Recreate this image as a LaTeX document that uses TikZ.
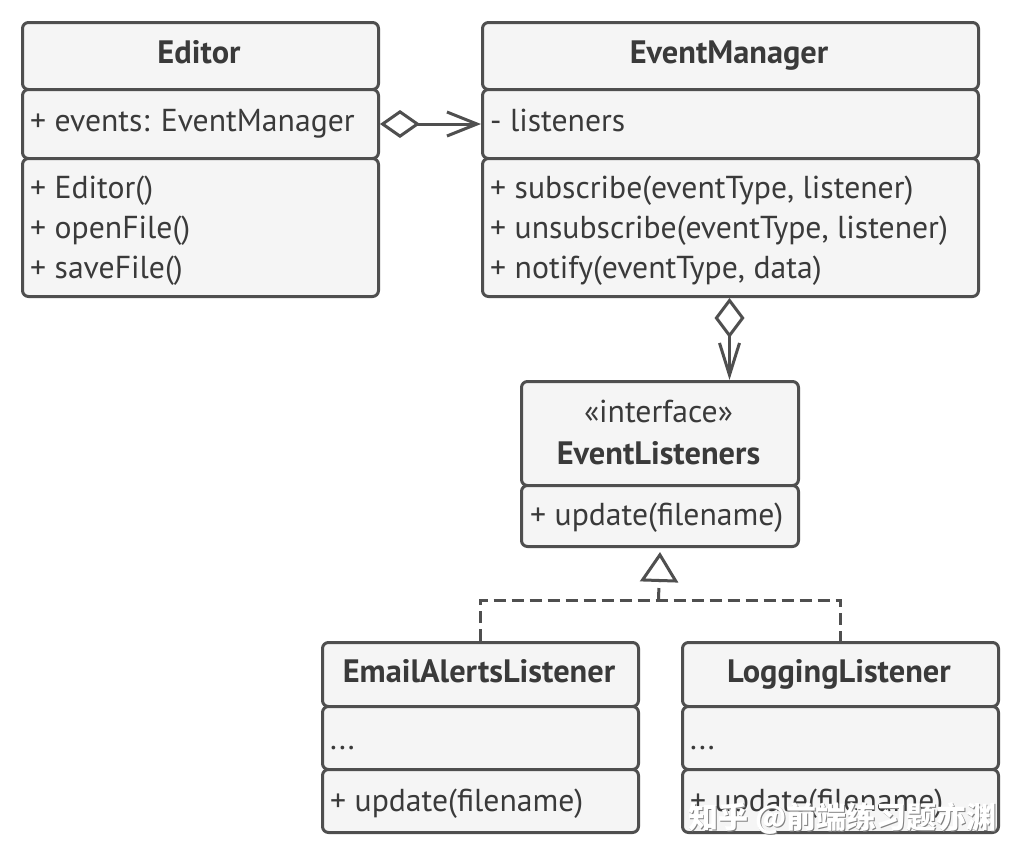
\documentclass[tikz,border=0pt]{standalone}
\usepackage{fontspec}
\setmainfont{PT Sans}
\newfontfamily\cjkfont{Noto Sans CJK SC}
\usetikzlibrary{arrows.meta}
\definecolor{strokec}{HTML}{4F4F4F}
\definecolor{textc}{HTML}{3A3A3A}
\definecolor{fillc}{HTML}{F5F5F5}
\begin{document}
\begin{tikzpicture}[x=1pt,y=-1pt,
  comp/.style={draw=strokec, fill=fillc, line width=3pt, rounded corners=6pt,
    inner sep=0pt, anchor=north west},
  txt/.style={text=textc, inner sep=0pt, anchor=base, font=\fontsize{31.7}{36}\selectfont},
  lt/.style={txt, anchor=base west},
  title/.style={txt, font=\fontsize{32.4}{36}\selectfont\bfseries},
  conn/.style={draw=strokec, line width=3pt},
  dashline/.style={conn, dash pattern=on 12pt off 6pt}
]
\useasboundingbox (0,0) rectangle (1020,860);
\fill[white] (0,0) rectangle (1020,860);

% Editor
\node[comp, minimum width=356pt, minimum height=67pt] (ed-h) at (21,21) {};
\node[comp, minimum width=356pt, minimum height=69pt] (ed-a) at (21,88) {};
\node[comp, minimum width=356pt, minimum height=138pt] (ed-m) at (21,157) {};
\node[title] (ed-t) at (199,63.5) {Editor};
\node[lt] (ed-a1) at (30,131.5) {+ events: EventManager};
\node[lt] (ed-m1) at (30,198.5) {+ Editor()};
\node[lt] (ed-m2) at (30,238.5) {+ openFile()};
\node[lt] (ed-m3) at (30,278.5) {+ saveFile()};

% EventManager
\node[comp, minimum width=496pt, minimum height=67pt] (em-h) at (481,21) {};
\node[comp, minimum width=496pt, minimum height=69pt] (em-a) at (481,88) {};
\node[comp, minimum width=496pt, minimum height=138pt] (em-m) at (481,157) {};
\node[title] (em-t) at (729,63.5) {EventManager};
\node[lt] (em-a1) at (490,131.5) {- listeners};
\node[lt] (em-m1) at (490,198.5) {+ subscribe(eventType, listener)};
\node[lt] (em-m2) at (490,238.5) {+ unsubscribe(eventType, listener)};
\node[lt] (em-m3) at (490,278.5) {+ notify(eventType, data)};

% EventListeners
\node[comp, minimum width=277pt, minimum height=104pt] (el-h) at (520,380) {};
\node[comp, minimum width=277pt, minimum height=61pt] (el-m) at (520,484) {};
\node[txt] (el-s) at (658.5,422) {«interface»};
\node[title] (el-t) at (658.5,464.5) {EventListeners};
\node[lt] (el-m1) at (530,525.5) {+ update(filename)};

% EmailAlertsListener
\node[comp, minimum width=316pt, minimum height=64pt] (ea-h) at (321,641) {};
\node[comp, minimum width=316pt, minimum height=63pt] (ea-a) at (321,705) {};
\node[comp, minimum width=316pt, minimum height=63pt] (ea-m) at (321,768) {};
\node[title] (ea-t) at (479,682.5) {EmailAlertsListener};
\node[lt] (ea-a1) at (330,749.5) {...};
\node[lt] (ea-m1) at (330,811.5) {+ update(filename)};

% LoggingListener
\node[comp, minimum width=316pt, minimum height=64pt] (lg-h) at (681,641) {};
\node[comp, minimum width=316pt, minimum height=63pt] (lg-a) at (681,705) {};
\node[comp, minimum width=316pt, minimum height=63pt] (lg-m) at (681,768) {};
\node[title] (lg-t) at (839,682.5) {LoggingListener};
\node[lt] (lg-a1) at (690,749.5) {...};
\node[lt] (lg-m1) at (690,811.5) {+ update(filename)};

% Connectors
\draw[conn, {Diamond[open,length=40pt,width=28pt,line width=3pt]}-{Straight Barb[length=30pt,width=24pt,line width=3pt]}]
  (ed-a.east) -- (em-a.west);
\draw[conn, {Diamond[open,length=40pt,width=30pt,line width=3pt]}-{Straight Barb[length=32pt,width=20pt,line width=3pt]}]
  (em-m.south -| el-h.north) ++(69.5,0) coordinate (emb) (emb) -- (emb |- el-h.north);

\coordinate (j) at (658.5,600);
\draw[dashline] (ea-h.north) -- (ea-h.north |- j) -- (lg-h.north |- j) -- (lg-h.north);
\draw[dashline, -{Triangle[open,length=30pt,width=38pt,line width=3pt,fill=white]}] (j) -- ([yshift=-4pt]el-m.south);

% watermark
\node[inner sep=0pt, anchor=west, text=gray, font=\cjkfont\bfseries\fontsize{30}{32}\selectfont] (wm-s) at (689.5,819.5) {知乎 @前端练习题亦渊};
\node[inner sep=0pt, anchor=west, text=white, font=\cjkfont\bfseries\fontsize{30}{32}\selectfont] (wm) at (688,818) {知乎 @前端练习题亦渊};
\end{tikzpicture}
\end{document}
